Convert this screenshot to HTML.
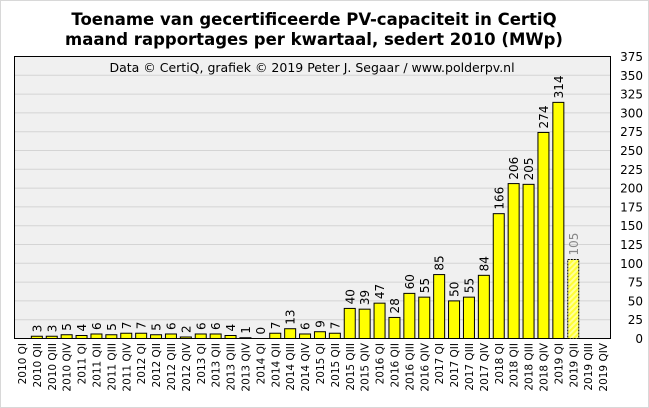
<!DOCTYPE html>
<html><head><meta charset="utf-8"><style>body{margin:0;background:#fff}svg{display:block}</style></head>
<body>
<svg id="s" width="649" height="408" xmlns="http://www.w3.org/2000/svg" font-family="DejaVu Sans, Verdana, sans-serif">
<defs><pattern id="h" width="4" height="4" patternUnits="userSpaceOnUse" patternTransform="rotate(45)"><rect width="4" height="4" fill="#ffff99"/><rect width="2" height="4" fill="#ffff33"/></pattern></defs>
<rect x="0.5" y="0.5" width="648" height="407" fill="#fff" stroke="#d8d8d8"/>
<text x="314" y="25" text-anchor="middle" font-size="16.5" font-weight="bold">Toename van gecertificeerde PV-capaciteit in CertiQ</text>
<text x="314" y="45" text-anchor="middle" font-size="16.5" font-weight="bold">maand rapportages per kwartaal, sedert 2010 (MWp)</text>
<rect x="14.5" y="56.5" width="596" height="282" fill="#f0f0f0" stroke="#000"/>
<g id="g"></g>
<text x="312" y="72" text-anchor="middle" font-size="12.5">Data © CertiQ, grafiek © 2019 Peter J. Segaar / www.polderpv.nl</text>
</svg>
<script>
var gg=document.getElementById('g'),o='';
var T=56.5,B=338.5,H=B-T,L=14.5,W=596/40;
for(var v=25;v<=375;v+=25){var y=B-v/375*H;if(v<375)o+='<line x1="15" x2="610" y1="'+y+'" y2="'+y+'" stroke="#d4d4d4"/>';}
for(var v=0;v<=375;v+=25){var y=B-v/375*H;o+='<text x="643" y="'+(y+4.5)+'" text-anchor="end" font-size="12">'+v+'</text>';}
var d=[null,3,3,5,4,6,5,7,7,5,6,2,6,6,4,1,0,7,13,6,9,7,40,39,47,28,60,55,85,50,55,84,166,206,205,274,314,105,null,null];
var q=['QI','QII','QIII','QIV'];
for(var i=0;i<40;i++){var cx=L+(i+0.5)*W,v=d[i];
 if(v!==null){var y=B-v/375*H,dash=(i==37);
  o+='<rect x="'+(cx-5.5)+'" y="'+y+'" width="11" height="'+(B-y)+'" fill="'+(dash?'url(#h)':'#ffff00')+'" stroke="#000" stroke-width="1" '+(dash?'stroke-dasharray="2,1"':'')+'/>';
  o+='<text transform="translate('+(cx+4.5)+','+(y-4)+') rotate(-90)" font-size="12" fill="'+(dash?'#888':'#000')+'">'+v+'</text>';}
 var lab=(2010+Math.floor(i/4))+' '+q[i%4];
 o+='<text transform="translate('+(cx+4)+',343) rotate(-90)" text-anchor="end" font-size="10.5">'+lab+'</text>';}
gg.innerHTML=o;
</script>
</body></html>
